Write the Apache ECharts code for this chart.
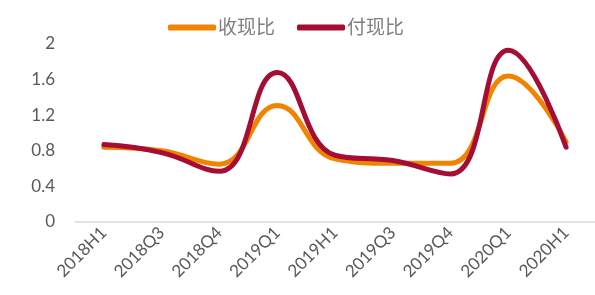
<!DOCTYPE html>
<html>
<head>
<meta charset="utf-8">
<script src="https://cdn.jsdelivr.net/npm/echarts@6/dist/echarts.min.js"></script>
<style>
  html, body { margin: 0; padding: 0; background: #fff; }
  #chart { width: 595px; height: 295px; }
</style>
</head>
<body>
<div id="chart"></div>
<script>
// 数据
var categories = ['2018H1', '2018Q3', '2018Q4', '2019Q1', '2019H1', '2019Q3', '2019Q4', '2020Q1', '2020H1'];
var shouXian = [0.84, 0.80, 0.65, 1.31, 0.71, 0.66, 0.66, 1.64, 0.90];
var fuXian = [0.87, 0.78, 0.57, 1.68, 0.75, 0.69, 0.54, 1.93, 0.84];
var yTicks = [0, 0.4, 0.8, 1.2, 1.6, 2];

var font = 'Lato, "Noto Sans CJK SC", sans-serif';
var myChart = echarts.init(document.getElementById('chart'));

var option = {
    animation: false,
    legend: {
        top: 13,
        left: 163,
        itemWidth: 48,
        itemHeight: 6,
        itemGap: 22,
        icon: 'roundRect',
        textStyle: { fontSize: 19, color: '#7f7f7f', fontFamily: font, padding: [0, 0, 0, -3] },
        data: ['收现比', '付现比']
    },
    grid: { left: 75, right: 0, top: 44, bottom: 73 },
    xAxis: {
        type: 'category',
        data: categories,
        axisLine: { lineStyle: { color: '#d9d9d9', width: 1.5 } },
        axisTick: { show: false },
        axisLabel: { rotate: 45, fontSize: 17, color: '#595959', fontFamily: font, margin: 8 }
    },
    yAxis: {
        type: 'value',
        min: yTicks[0],
        max: yTicks[yTicks.length - 1],
        interval: 0.4,
        axisLine: { show: false },
        axisTick: { show: false },
        splitLine: { show: false },
        axisLabel: { fontSize: 17, color: '#595959', fontFamily: font, margin: 20 }
    },
    series: [
        {
            name: '收现比',
            type: 'line',
            smooth: 0.45,
            symbol: 'none',
            data: shouXian,
            itemStyle: { color: '#f08300' },
            lineStyle: { width: 5, color: '#f08300', cap: 'round' }
        },
        {
            name: '付现比',
            type: 'line',
            smooth: 0.45,
            symbol: 'none',
            data: fuXian,
            itemStyle: { color: '#a50d35' },
            lineStyle: { width: 5, color: '#a50d35', cap: 'round' }
        }
    ]
};
myChart.setOption(option);
</script>
</body>
</html>
